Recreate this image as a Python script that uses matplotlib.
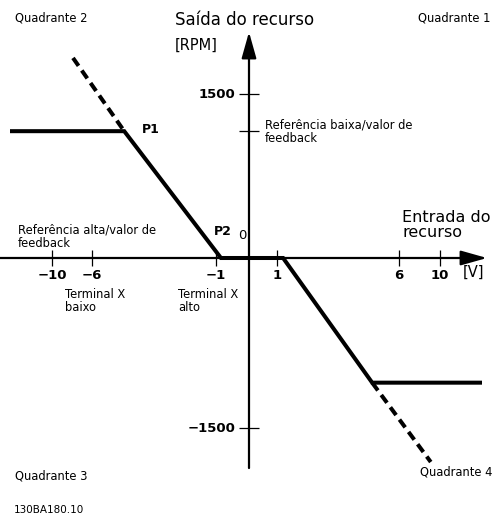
import numpy as np
import matplotlib
matplotlib.use("Agg")
import matplotlib.pyplot as plt

# entrada [V] -> saida [RPM]
curve_v = [-14.2, -4.7, -0.85, 1.25, 4.9, 14.2]
curve_rpm = [1160, 1160, 0, 0, -1100, -1100]
ext_top_v = [-7.9, -4.7]
ext_top_rpm = [1830, 1160]
ext_bot_v = [4.9, 9.1]
ext_bot_rpm = [-1100, -1800]

xtick_v = [-10, -6, -1, 1, 6, 10]
xtick_labels = ["−10", "−6", "−1", "1", "6", "10"]
ytick_rpm = [1500, 1160, -1500]
ytick_labels = ["1500", "", "−1500"]

# schematic axes (not to scale): piecewise mapping data -> pixels
x_knots = [-15.2, -10, -6, -1, 0, 1, 6, 10, 15.5]
x_pix = [0, 52, 92, 216, 249, 277, 399, 440, 495]
y_knots = [-2276, -1500, 0, 1500, 2360]
y_pix = [0, 88, 258, 422, 516]

W, H = 495, 516
plt.rcParams['font.family'] = 'DejaVu Sans'

fig = plt.figure(figsize=(W / 100, H / 100), dpi=100)
ax = fig.add_axes([0, 0, 1, 1])
ax.set_xscale('function', functions=(lambda v: np.interp(v, x_knots, x_pix),
                                     lambda p: np.interp(p, x_pix, x_knots)))
ax.set_yscale('function', functions=(lambda r: np.interp(r, y_knots, y_pix),
                                     lambda p: np.interp(p, y_pix, y_knots)))
ax.set_xlim(x_knots[0], x_knots[-1])
ax.set_ylim(y_knots[0], y_knots[-1])
ax.axis('off')

# axes with arrows
arrow = dict(arrowstyle='-|>,head_length=1.6,head_width=0.45', lw=1.6,
             color='k', shrinkA=0, shrinkB=0, mutation_scale=10)
ax.annotate('', xy=(14.7, 0), xytext=(-15.2, 0), arrowprops=arrow)
ax.annotate('', xy=(0, 2067), xytext=(0, -1853), arrowprops=arrow)

ax.plot(xtick_v, [0] * len(xtick_v), ls='none', marker='|', ms=12, mew=0.9, color='k')
ax.plot([0] * len(ytick_rpm), ytick_rpm, ls='none', marker='_', ms=14, mew=0.9, color='k')

# curve
ax.plot(curve_v, curve_rpm, color='k', lw=2.9, solid_capstyle='butt', solid_joinstyle='miter')
for xs, ys in [(ext_top_v, ext_top_rpm), (ext_bot_v, ext_bot_rpm)]:
    ax.plot(xs, ys, color='k', lw=2.9, dashes=(2.4, 1.4), dash_capstyle='butt')

# tick labels
for v, lab in zip(xtick_v, xtick_labels):
    ax.annotate(lab, (v, 0), xytext=(0, -12.5), textcoords='offset points',
                ha='center', va='center', fontsize=9.5, fontweight='bold')
for r, lab in zip(ytick_rpm, ytick_labels):
    ax.annotate(lab, (0, r), xytext=(-10, 0), textcoords='offset points',
                ha='right', va='center', fontsize=9.5, fontweight='bold')
ax.annotate('0', (0, 0), xytext=(-5, 16), textcoords='offset points',
            ha='center', va='center', fontsize=9.5)
ax.annotate('P1', (-4.7, 1160), xytext=(19, 1), textcoords='offset points',
            ha='center', va='center', fontsize=9, fontweight='bold')
ax.annotate('P2', (-0.85, 0), xytext=(1, 19), textcoords='offset points',
            ha='center', va='center', fontsize=9, fontweight='bold')


def txt(x, y, s, **kw):
    kw.setdefault('fontsize', 8.3)
    kw.setdefault('va', 'center')
    kw.setdefault('linespacing', 1.05)
    fig.text(x / W, 1 - y / H, s, **kw)


txt(15, 18, 'Quadrante 2')
txt(490, 18, 'Quadrante 1', ha='right')
txt(15, 476, 'Quadrante 3')
txt(492, 472, 'Quadrante 4', ha='right')
txt(14, 510, '130BA180.10', fontsize=7.5)
txt(175, 20, 'Saída do recurso', fontsize=12)
txt(175, 45, '[RPM]', fontsize=10.5)
txt(402, 225, 'Entrada do\nrecurso', fontsize=11.5, linespacing=1.0)
txt(463, 272, '[V]', fontsize=10.5)
txt(265, 132, 'Referência baixa/valor de\nfeedback')
txt(18, 237, 'Referência alta/valor de\nfeedback')
txt(65, 301, 'Terminal X\nbaixo')
txt(178, 301, 'Terminal X\nalto')

fig.savefig('out.png', dpi=100)
